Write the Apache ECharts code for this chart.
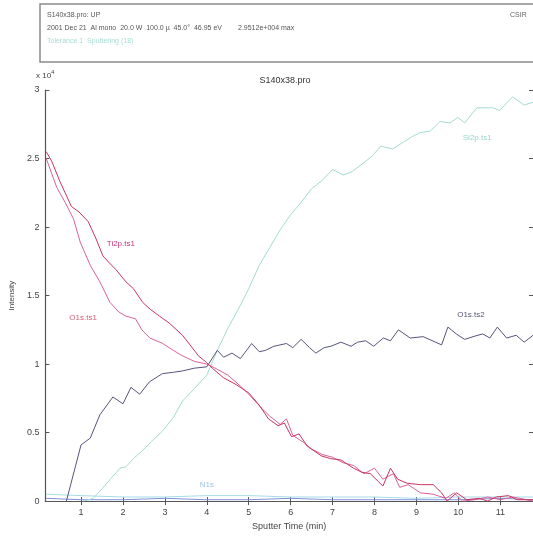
<!DOCTYPE html>
<html>
<head>
    <meta charset="utf-8">
    <title>S140x38.pro</title>
    <script src="https://cdn.jsdelivr.net/npm/echarts@6/dist/echarts.min.js"></script>
    <style>
        html, body { margin: 0; padding: 0; background: #fff; }
        #chart { width: 533px; height: 536px; }
    </style>
</head>
<body>
    <div id="chart"></div>
    <script type="text/javascript">
        // tick labels
        const xTicks = [1, 2, 3, 4, 5, 6, 7, 8, 9, 10, 11];

        // Ti2p.ts1 (sputter time in min, intensity x 10^4)
        const ti2pTime = [0.17, 0.3, 0.5, 0.77, 0.95, 1.17, 1.35, 1.52, 1.7, 1.83, 2.07, 2.25, 2.47, 2.65, 2.87, 3.1, 3.42, 3.6, 3.8, 4.0, 4.13, 4.4, 4.7, 5.0, 5.25, 5.47, 5.7, 5.85, 6.02, 6.2, 6.4, 6.73, 6.95, 7.2, 7.5, 7.7, 7.9, 8.1, 8.2, 8.38, 8.55, 8.78, 9.1, 9.4, 9.6, 9.73, 9.96, 10.2, 10.5, 10.7, 10.9, 11.2, 11.4, 11.78];
        const ti2pVals = [2.55, 2.48, 2.33, 2.15, 2.11, 2.04, 1.92, 1.79, 1.73, 1.69, 1.6, 1.55, 1.45, 1.4, 1.35, 1.3, 1.21, 1.14, 1.06, 1.01, 0.97, 0.9, 0.85, 0.79, 0.7, 0.6, 0.55, 0.57, 0.47, 0.49, 0.4, 0.33, 0.31, 0.3, 0.24, 0.21, 0.2, 0.14, 0.11, 0.24, 0.16, 0.13, 0.12, 0.12, 0.06, 0.0, 0.06, 0.01, 0.02, 0.0, 0.03, 0.04, 0.01, 0.01];

        // O1s.ts1
        const o1s1Time = [0.17, 0.42, 0.62, 0.82, 0.98, 1.22, 1.45, 1.69, 1.9, 2.07, 2.3, 2.45, 2.64, 2.95, 3.2, 3.42, 3.7, 4.0, 4.2, 4.5, 4.8, 5.0, 5.3, 5.5, 5.75, 5.9, 6.05, 6.3, 6.5, 6.75, 7.0, 7.25, 7.5, 7.75, 8.0, 8.2, 8.45, 8.6, 8.8, 9.1, 9.4, 9.7, 9.9, 10.1, 10.4, 10.7, 11.0, 11.3, 11.78];
        const o1s1Vals = [2.5, 2.29, 2.18, 2.06, 1.89, 1.72, 1.6, 1.45, 1.38, 1.35, 1.33, 1.25, 1.19, 1.15, 1.1, 1.06, 1.02, 1.0, 0.97, 0.92, 0.84, 0.78, 0.68, 0.62, 0.56, 0.6, 0.48, 0.43, 0.38, 0.34, 0.32, 0.28, 0.26, 0.2, 0.24, 0.16, 0.2, 0.1, 0.12, 0.06, 0.05, 0.02, 0.06, 0.0, 0.01, 0.03, 0.01, 0.03, 0.0];

        // O1s.ts2
        const o1s2Time = [0.65, 1.0, 1.22, 1.45, 1.76, 2.0, 2.19, 2.4, 2.63, 2.94, 3.2, 3.42, 3.7, 4.0, 4.25, 4.4, 4.6, 4.8, 5.07, 5.25, 5.4, 5.6, 5.9, 6.05, 6.25, 6.45, 6.6, 6.8, 6.96, 7.2, 7.44, 7.6, 7.79, 7.98, 8.21, 8.38, 8.57, 8.85, 9.16, 9.6, 9.75, 9.95, 10.15, 10.35, 10.58, 10.75, 10.93, 11.15, 11.38, 11.57, 11.78];
        const o1s2Vals = [0.0, 0.41, 0.46, 0.63, 0.76, 0.71, 0.83, 0.78, 0.87, 0.93, 0.94, 0.95, 0.97, 0.98, 1.1, 1.05, 1.08, 1.04, 1.15, 1.09, 1.1, 1.13, 1.15, 1.12, 1.18, 1.12, 1.08, 1.12, 1.13, 1.16, 1.13, 1.16, 1.17, 1.13, 1.19, 1.17, 1.25, 1.19, 1.2, 1.14, 1.27, 1.22, 1.18, 1.2, 1.22, 1.19, 1.27, 1.19, 1.21, 1.16, 1.21];

        // Si2p.ts1
        const si2pTime = [1.05, 1.29, 1.5, 1.7, 1.93, 2.07, 2.25, 2.47, 2.7, 2.94, 3.2, 3.42, 3.7, 4.0, 4.25, 4.5, 4.75, 5.0, 5.25, 5.5, 5.75, 6.0, 6.25, 6.5, 6.75, 7.0, 7.25, 7.44, 7.75, 7.95, 8.15, 8.43, 8.69, 8.9, 9.09, 9.33, 9.56, 9.8, 9.99, 10.15, 10.44, 10.82, 10.98, 11.29, 11.57, 11.78];
        const si2pVals = [0.0, 0.02, 0.09, 0.16, 0.24, 0.25, 0.31, 0.37, 0.44, 0.51, 0.61, 0.73, 0.82, 0.92, 1.1, 1.26, 1.4, 1.55, 1.72, 1.85, 1.98, 2.09, 2.18, 2.28, 2.34, 2.42, 2.38, 2.4, 2.47, 2.52, 2.59, 2.57, 2.62, 2.66, 2.69, 2.7, 2.77, 2.76, 2.8, 2.76, 2.87, 2.87, 2.85, 2.95, 2.89, 2.91];

        // N1s and background trace near zero
        const lowTime = [0.17, 1, 2, 3, 4, 5, 6, 7, 8, 9, 10, 11, 11.78];
        const n1sVals = [0.05, 0.04, 0.03, 0.03, 0.04, 0.04, 0.03, 0.03, 0.03, 0.02, 0.03, 0.03, 0.03];
        const bgVals = [0.02, 0.01, 0.01, 0.02, 0.01, 0.01, 0.02, 0.01, 0.01, 0.01, 0.01, 0.02, 0.01];

        function pairs(t, v) {
            return t.map(function (x, i) { return [x, v[i]]; });
        }

        const FONT = 'Liberation Sans';

        function tag(name, coord, color) {
            return {
                symbol: 'circle', symbolSize: 0,
                data: [{ coord: coord, value: name }],
                label: { show: true, position: 'inside', formatter: name, color: color, fontSize: 8, fontFamily: FONT }
            };
        }

        function line(name, data, color, mark) {
            const s = {
                name: name, type: 'line', data: data, showSymbol: false, silent: true,
                lineStyle: { color: color, width: 1 }, z: 3
            };
            if (mark) s.markPoint = mark;
            return s;
        }

        const chart = echarts.init(document.getElementById('chart'));
        const axisCol = '#555';
        const option = {
            animation: false,
            textStyle: { fontFamily: FONT },
            grid: { left: 42, right: 0, top: 90, bottom: 33 },
            xAxis: [{
                type: 'value', min: 0.15, max: 11.78, position: 'bottom',
                axisLine: { show: true, lineStyle: { color: axisCol, width: 1.2 } },
                axisTick: { show: true, inside: true, length: 4, customValues: xTicks, lineStyle: { color: axisCol } },
                axisLabel: { customValues: xTicks, fontSize: 9, color: '#444', margin: 7 },
                splitLine: { show: false },
                name: 'Sputter Time (min)', nameLocation: 'middle', nameGap: 19,
                nameTextStyle: { fontSize: 9, color: '#444' }
            }, {
                type: 'value', min: 0.15, max: 11.78, position: 'top',
                axisLine: { show: true, lineStyle: { color: axisCol, width: 1.2 } },
                axisTick: { show: true, inside: true, length: 4, customValues: xTicks, lineStyle: { color: axisCol } },
                axisLabel: { show: false },
                splitLine: { show: false }
            }],
            yAxis: [{
                type: 'value', min: 0, max: 3, interval: 0.5, position: 'left',
                axisLine: { show: true, lineStyle: { color: axisCol, width: 1.2 } },
                axisTick: { show: true, inside: true, length: 4, lineStyle: { color: axisCol } },
                axisLabel: { fontSize: 9, color: '#444', margin: 6 },
                splitLine: { show: false },
                name: 'Intensity', nameLocation: 'middle', nameGap: 27, nameRotate: 90,
                nameTextStyle: { fontSize: 8, color: '#444' }
            }, {
                type: 'value', min: 0, max: 3, interval: 0.5, position: 'right',
                axisLine: { show: false },
                axisTick: { show: true, inside: true, length: 4, lineStyle: { color: axisCol } },
                axisLabel: { show: false },
                splitLine: { show: false }
            }],
            graphic: [
                { type: 'rect', shape: { x: 40, y: 4, width: 520, height: 58 }, style: { fill: 'none', stroke: '#8a8a8a', lineWidth: 1.5 } },
                { type: 'text', x: 47, y: 12, style: { text: 'S140x38.pro: UP', fontSize: 7, fill: '#555', fontFamily: FONT } },
                { type: 'text', x: 47, y: 25, style: { text: '2001 Dec 21  Al mono  20.0 W  100.0 \u00b5  45.0\u00b0  46.95 eV', fontSize: 7, fill: '#555', fontFamily: FONT } },
                { type: 'text', x: 238, y: 25, style: { text: '2.9512e+004 max', fontSize: 7, fill: '#555', fontFamily: FONT } },
                { type: 'text', x: 510, y: 12, style: { text: 'CSIR', fontSize: 7, fill: '#666', fontFamily: FONT } },
                { type: 'text', x: 47, y: 38, style: { text: 'Tolerance 1  Sputtering (18)', fontSize: 7, fill: '#a8dcd4', fontFamily: FONT } },
                { type: 'text', x: 285, y: 76, style: { text: 'S140x38.pro', fontSize: 9, fill: '#333', fontFamily: FONT, align: 'center' } },
                {
                    type: 'text', x: 36, y: 68,
                    style: {
                        text: '{a|x 10}{b|4}', fontFamily: FONT,
                        rich: { a: { fontSize: 8, fill: '#444', padding: [4, 0, 0, 0] }, b: { fontSize: 6, fill: '#444', padding: [0, 0, 4, 0] } }
                    }
                }
            ],
            series: [
                line('bg', pairs(lowTime, bgVals), '#8090d8'),
                line('N1s', pairs(lowTime, n1sVals), '#a6dbe6', tag('N1s', [4.0, 0.12], '#9cc8e0')),
                line('Si2p.ts1', pairs(si2pTime, si2pVals), '#a3dbd0', tag('Si2p.ts1', [10.45, 2.65], '#9dd2ca')),
                line('O1s.ts2', pairs(o1s2Time, o1s2Vals), '#55557e', tag('O1s.ts2', [10.3, 1.36], '#55557e')),
                line('O1s.ts1', pairs(o1s1Time, o1s1Vals), '#d8629c', tag('O1s.ts1', [1.05, 1.34], '#d5607a')),
                line('Ti2p.ts1', pairs(ti2pTime, ti2pVals), '#c9345f', tag('Ti2p.ts1', [1.95, 1.88], '#c9347a'))
            ]
        };
        chart.setOption(option);
    </script>
</body>
</html>
